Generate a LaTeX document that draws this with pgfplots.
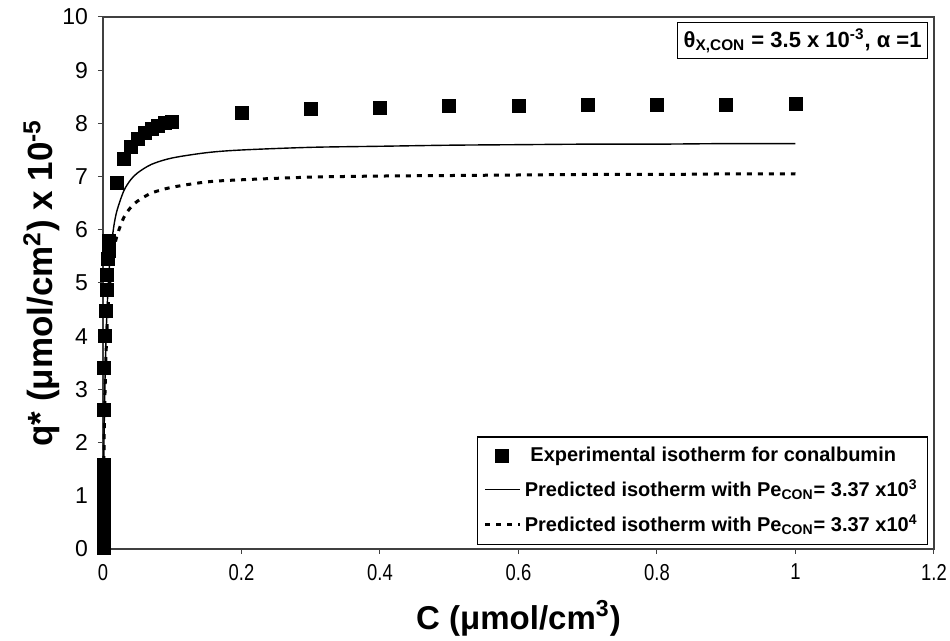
\documentclass[border=0pt]{standalone}
\usepackage{pgfplots}
\pgfplotsset{compat=1.18}
\usepackage{fontspec}
\setmainfont{Liberation Sans}

\begin{document}
\begin{tikzpicture}
\useasboundingbox (-51.5pt,-46pt) rectangle (423.5pt,274.5pt);
\begin{axis}[
  at={(0,0)}, anchor=south west, scale only axis,
  width=415.5pt, height=266pt,
  xmin=0, xmax=1.2, ymin=0, ymax=10,
  xtick={0,0.2,0.4,0.6,0.8,1,1.2}, ytick={0,1,...,10},
  tick align=outside, tick pos=left, major tick length=2.5pt,
  axis line style={black!75, line width=0.7pt},
  tick style={black!75, line width=0.5pt},
  /pgf/number format/assume math mode=true,
  xticklabel={\fontsize{11.5}{13}\selectfont\scalebox{0.8}[1]{\pgfmathprintnumber{\tick}}},
  yticklabel={\fontsize{11.5}{13}\selectfont\pgfmathprintnumber{\tick}},
  xticklabel style={yshift=-1.5pt},
  yticklabel style={xshift=-1.5pt},
  xlabel={C (μmol/cm\textsuperscript{3})},
  ylabel={q* (μmol/cm\textsuperscript{2}) x 10\textsuperscript{-5}},
  xlabel style={font=\bfseries\fontsize{16.5}{18}\selectfont,
    at={(axis description cs:0.5,-0.1504)}, anchor=base},
  ylabel style={font=\bfseries\fontsize{17.5}{19}\selectfont,
    at={(axis description cs:-0.0602,0.5)}, anchor=base},
  clip=false,
  legend cell align=left,
  legend style={at={(0.993,0.0075)}, anchor=south east, draw=black,
    line width=0.6pt, font=\bfseries\fontsize{10}{11}\selectfont,
    row sep=3.5pt, inner sep=3pt},
]
\addplot[only marks, mark=square*, mark size=3.25pt, color=black] coordinates {
(0.0008,0.02)(0.0008,0.15)(0.0008,0.3)(0.0008,0.45)(0.0008,0.6)(0.0008,0.75)
(0.0008,0.9)(0.0008,1.05)(0.0008,1.2)(0.0008,1.35)(0.0008,1.5)(0.0008,1.58)
(0.001,2.62)(0.002,3.4)(0.003,4.0)(0.004,4.47)(0.005,4.87)(0.006,5.15)
(0.007,5.45)(0.008,5.6)(0.009,5.8)
(0.02,6.88)(0.03,7.33)(0.041,7.56)(0.05,7.7)(0.061,7.82)(0.07,7.89)
(0.079,7.95)(0.089,8.0)(0.1,8.03)
(0.2,8.2)(0.3,8.27)(0.4,8.3)(0.5,8.32)(0.6,8.33)(0.7,8.34)(0.8,8.35)
(0.9,8.35)(1.0,8.36)};
\addlegendentry{\ Experimental isotherm for conalbumin}
\addplot[black, line width=0.7pt, smooth] coordinates {
(0,0)(0.001,1.50)(0.002,2.51)(0.003,3.23)(0.005,4.20)(0.0075,4.95)(0.01,5.43)
(0.015,6.01)(0.02,6.35)(0.03,6.73)(0.04,6.94)(0.05,7.07)(0.07,7.23)(0.1,7.35)
(0.15,7.45)(0.2,7.50)(0.3,7.55)(0.4,7.57)(0.5,7.59)(0.6,7.60)(0.7,7.61)
(0.8,7.61)(0.9,7.62)(1.0,7.62)};
\addlegendentry{Predicted isotherm with Pe\textsubscript{CON}= 3.37 x10\textsuperscript{3}}
\addplot[black, line width=1.5pt, dash pattern=on 2.5pt off 3pt, smooth] coordinates {
(0,0)(0.001,1.39)(0.002,2.32)(0.003,2.99)(0.005,3.89)(0.0075,4.58)(0.01,5.03)
(0.015,5.56)(0.02,5.88)(0.03,6.23)(0.04,6.42)(0.05,6.54)(0.07,6.69)(0.1,6.80)
(0.15,6.90)(0.2,6.94)(0.3,6.99)(0.4,7.01)(0.5,7.02)(0.6,7.03)(0.7,7.04)
(0.8,7.04)(0.9,7.05)(1.0,7.05)};
\addlegendentry{Predicted isotherm with Pe\textsubscript{CON}= 3.37 x10\textsuperscript{4}}
\node[draw=black, line width=0.6pt, anchor=north east, inner sep=3pt,
  font=\bfseries\fontsize{11}{13}\selectfont] at (rel axis cs:0.993,0.991)
  {θ\textsubscript{X,CON} = 3.5 x 10\textsuperscript{-3}, α =1};
\end{axis}
\end{tikzpicture}
\end{document}
